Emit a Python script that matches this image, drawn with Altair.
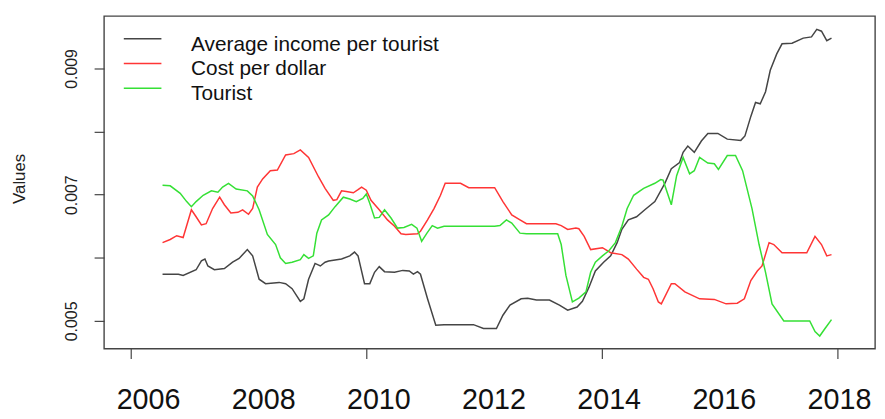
import altair as alt
import pandas as pd

FONT = "Liberation Sans, Arial, Helvetica, sans-serif"

series_names = ["Average income per tourist", "Cost per dollar", "Tourist"]
series_colors = ["#454545", "#ff3535", "#35e035"]

income_year = [2006.54, 2006.81, 2006.89, 2007.11, 2007.20, 2007.26, 2007.31, 2007.42, 2007.59, 2007.73,
               2007.84, 2007.98, 2008.07, 2008.18, 2008.29, 2008.52, 2008.63, 2008.74, 2008.88, 2008.94,
               2009.02, 2009.13, 2009.22, 2009.30, 2009.36, 2009.58, 2009.72, 2009.80, 2009.86, 2009.97,
               2010.06, 2010.14, 2010.22, 2010.31, 2010.48, 2010.62, 2010.73, 2010.80, 2010.87, 2010.92,
               2011.04, 2011.18, 2011.32, 2011.82, 2011.99, 2012.21, 2012.32, 2012.44, 2012.63, 2012.74,
               2012.89, 2013.11, 2013.28, 2013.42, 2013.58, 2013.67, 2013.78, 2013.89, 2014.03, 2014.15,
               2014.26, 2014.34, 2014.45, 2014.59, 2014.73, 2014.90, 2015.07, 2015.18, 2015.32, 2015.38,
               2015.46, 2015.57, 2015.69, 2015.80, 2015.97, 2016.13, 2016.36, 2016.43, 2016.53, 2016.61,
               2016.69, 2016.78, 2016.86, 2016.97, 2017.06, 2017.23, 2017.42, 2017.56, 2017.65, 2017.73,
               2017.82, 2017.90]
income_val = [0.00574, 0.00574, 0.00572, 0.00581, 0.00595, 0.00598, 0.00587, 0.00581, 0.00583, 0.00593,
              0.00599, 0.00613, 0.00603, 0.00566, 0.00559, 0.00561, 0.00559, 0.00551, 0.00531, 0.00535,
              0.00566, 0.00591, 0.00587, 0.00593, 0.00595, 0.00598, 0.00603, 0.00609, 0.00603, 0.00559,
              0.00559, 0.00577, 0.00586, 0.00578, 0.00577, 0.00580, 0.00579, 0.00574, 0.00578, 0.00574,
              0.00535, 0.00493, 0.00494, 0.00494, 0.00488, 0.00488, 0.00509, 0.00525, 0.00535, 0.00536,
              0.00533, 0.00533, 0.00525, 0.00517, 0.00522, 0.00531, 0.00553, 0.00579, 0.00593, 0.00603,
              0.00624, 0.00645, 0.00660, 0.00665, 0.00676, 0.00689, 0.00718, 0.00741, 0.00751, 0.00767,
              0.00777, 0.00767, 0.00785, 0.00797, 0.00797, 0.00788, 0.00786, 0.00793, 0.00824, 0.00846,
              0.00844, 0.00863, 0.00897, 0.00923, 0.00939, 0.00940, 0.00948, 0.00950, 0.00962, 0.00959,
              0.00944, 0.00948]

cost_year = [2006.54, 2006.67, 2006.78, 2006.89, 2007.03, 2007.11, 2007.20, 2007.28, 2007.39, 2007.51,
             2007.59, 2007.70, 2007.82, 2007.90, 2008.00, 2008.07, 2008.15, 2008.24, 2008.37, 2008.49,
             2008.63, 2008.77, 2008.88, 2009.02, 2009.19, 2009.30, 2009.44, 2009.50, 2009.58, 2009.66,
             2009.78, 2009.86, 2009.92, 2010.00, 2010.08, 2010.22, 2010.36, 2010.48, 2010.59, 2010.67,
             2010.87, 2010.92, 2011.04, 2011.15, 2011.26, 2011.34, 2011.60, 2011.74, 2012.18, 2012.32,
             2012.47, 2012.61, 2012.72, 2013.22, 2013.31, 2013.42, 2013.56, 2013.61, 2013.70, 2013.81,
             2014.01, 2014.15, 2014.34, 2014.45, 2014.59, 2014.71, 2014.79, 2014.87, 2014.96, 2015.01,
             2015.18, 2015.24, 2015.41, 2015.66, 2015.91, 2016.11, 2016.30, 2016.42, 2016.53, 2016.64,
             2016.72, 2016.84, 2016.92, 2017.06, 2017.48, 2017.62, 2017.73, 2017.82, 2017.90]
cost_val = [0.00624, 0.00629, 0.00635, 0.00632, 0.00676, 0.00665, 0.00652, 0.00654, 0.00678, 0.00696,
            0.00684, 0.00671, 0.00672, 0.00676, 0.00669, 0.00678, 0.00712, 0.00725, 0.00738, 0.00739,
            0.00763, 0.00765, 0.00771, 0.00759, 0.00728, 0.00710, 0.00691, 0.00692, 0.00706, 0.00705,
            0.00703, 0.00708, 0.00712, 0.00707, 0.00691, 0.00676, 0.00660, 0.00650, 0.00638, 0.00637,
            0.00638, 0.00642, 0.00660, 0.00678, 0.00699, 0.00718, 0.00718, 0.00711, 0.00711, 0.00689,
            0.00668, 0.00660, 0.00654, 0.00654, 0.00651, 0.00645, 0.00647, 0.00646, 0.00634, 0.00613,
            0.00616, 0.00608, 0.00605, 0.00598, 0.00582, 0.00569, 0.00566, 0.00551, 0.00530, 0.00527,
            0.00559, 0.00559, 0.00546, 0.00535, 0.00534, 0.00527, 0.00528, 0.00535, 0.00564, 0.00579,
            0.00587, 0.00624, 0.00621, 0.00608, 0.00608, 0.00634, 0.00621, 0.00603, 0.00605]

tourist_year = [2006.54, 2006.67, 2006.84, 2006.95, 2007.03, 2007.11, 2007.23, 2007.37, 2007.48, 2007.56,
                2007.66, 2007.79, 2007.98, 2008.07, 2008.18, 2008.32, 2008.46, 2008.54, 2008.63, 2008.74,
                2008.88, 2008.94, 2009.02, 2009.10, 2009.16, 2009.24, 2009.36, 2009.47, 2009.61, 2009.72,
                2009.83, 2009.94, 2010.00, 2010.06, 2010.14, 2010.22, 2010.31, 2010.42, 2010.53, 2010.64,
                2010.77, 2010.86, 2010.94, 2011.03, 2011.12, 2011.21, 2011.32, 2012.18, 2012.27, 2012.38,
                2012.47, 2012.61, 2012.72, 2013.25, 2013.31, 2013.39, 2013.50, 2013.61, 2013.73, 2013.81,
                2013.89, 2014.01, 2014.12, 2014.23, 2014.34, 2014.43, 2014.54, 2014.71, 2014.90, 2015.00,
                2015.04, 2015.18, 2015.27, 2015.38, 2015.49, 2015.57, 2015.66, 2015.80, 2015.91, 2015.98,
                2016.13, 2016.27, 2016.39, 2016.55, 2016.67, 2016.78, 2016.89, 2017.09, 2017.53, 2017.62,
                2017.70, 2017.79, 2017.90]
tourist_val = [0.00715, 0.00714, 0.00702, 0.00689, 0.00681, 0.00689, 0.00699, 0.00706, 0.00704, 0.00712,
               0.00718, 0.00709, 0.00706, 0.00698, 0.00676, 0.00637, 0.00621, 0.00600, 0.00591, 0.00593,
               0.00597, 0.00605, 0.00599, 0.00603, 0.00639, 0.00660, 0.00668, 0.00681, 0.00696, 0.00693,
               0.00689, 0.00694, 0.00701, 0.00686, 0.00663, 0.00664, 0.00676, 0.00663, 0.00647, 0.00648,
               0.00653, 0.00647, 0.00626, 0.00639, 0.00651, 0.00647, 0.00650, 0.00650, 0.00651, 0.00660,
               0.00655, 0.00639, 0.00638, 0.00638, 0.00621, 0.00572, 0.00530, 0.00536, 0.00546, 0.00577,
               0.00593, 0.00603, 0.00611, 0.00624, 0.00650, 0.00678, 0.00699, 0.00710, 0.00718, 0.00724,
               0.00723, 0.00684, 0.00730, 0.00759, 0.00733, 0.00738, 0.00759, 0.00750, 0.00749, 0.00740,
               0.00762, 0.00762, 0.00738, 0.00678, 0.00621, 0.00577, 0.00527, 0.00500, 0.00500, 0.00483,
               0.00476, 0.00488, 0.00502]

x_tick_years = [2006, 2010, 2014, 2018]
x_label_years = [2006, 2008, 2010, 2012, 2014, 2016, 2018]
x_labels = ["2006", "2008", "2010", "2012", "2014", "2016", "2018"]
y_ticks = [0.005, 0.006, 0.007, 0.008, 0.009]

frames = []
for name, yrs, vals in [(series_names[0], income_year, income_val),
                        (series_names[1], cost_year, cost_val),
                        (series_names[2], tourist_year, tourist_val)]:
    frames.append(pd.DataFrame({"year": yrs, "value": vals, "series": name}))
df = pd.concat(frames, ignore_index=True)

color_scale = alt.Scale(domain=series_names, range=series_colors)

lines = alt.Chart(df).mark_line(strokeWidth=1.5, clip=True).encode(
    x=alt.X("year:Q",
            scale=alt.Scale(domain=[2005.546, 2018.639], nice=False, zero=False),
            axis=alt.Axis(values=x_tick_years, labels=False, title=None, grid=False,
                          domain=False, tickSize=10, tickColor="#444444", tickWidth=1.2)),
    y=alt.Y("value:Q",
            scale=alt.Scale(domain=[0.004561, 0.00983], nice=False, zero=False),
            axis=alt.Axis(values=y_ticks,
                          labelExpr="(round(datum.value*1000)%2==1) ? format(datum.value, '.3f') : ''",
                          labelAngle=270, labelAlign="center", labelBaseline="bottom",
                          labelPadding=15, labelFontSize=16, labelFont=FONT, labelColor="#222222",
                          grid=False, domain=False, tickSize=10, tickColor="#444444", tickWidth=1.2,
                          title="Values", titleFontSize=17, titleFont=FONT, titleFontWeight="normal",
                          titleColor="#222222", titleAngle=270, titleX=-85, titleY=164,
                          titleAlign="center", titleBaseline="middle")),
    color=alt.Color("series:N", scale=color_scale, legend=None),
)

leg_df = pd.DataFrame({"series": series_names})
leg_y = alt.Y("series:N", scale=alt.Scale(type="point", domain=series_names, range=[23, 73], padding=0),
              axis=None)

leg_rules = alt.Chart(leg_df).mark_rule(strokeWidth=1.5).encode(
    x=alt.value(20), x2=alt.value(58), y=leg_y,
    color=alt.Color("series:N", scale=color_scale, legend=None),
)
leg_text = alt.Chart(leg_df).mark_text(align="left", baseline="alphabetic", dy=12,
                                       fontSize=21, font=FONT, color="#111111").encode(
    x=alt.value(88), y=leg_y, text="series:N",
)

xlab_df = pd.DataFrame({"year": x_label_years, "label": x_labels})
xlabels = alt.Chart(xlab_df).mark_text(fontSize=29, font=FONT, baseline="alphabetic", align="center",
                                       color="#111111").encode(
    x=alt.X("year:Q", scale=alt.Scale(domain=[2005.226, 2018.618], nice=False, zero=False), axis=None),
    y=alt.value(397),
    text="label:N",
)

chart = alt.layer(lines, leg_rules, leg_text, xlabels).resolve_scale(
    x="independent", y="independent"
).properties(
    width=779, height=336,
    autosize=alt.AutoSizeParams(type="none"),
    padding={"left": 97, "top": 6, "right": 2, "bottom": 68},
    background="white",
).configure_view(stroke="#444444", strokeWidth=1.4)

chart.save("out.html", embed_options={"renderer": "svg", "actions": False})
